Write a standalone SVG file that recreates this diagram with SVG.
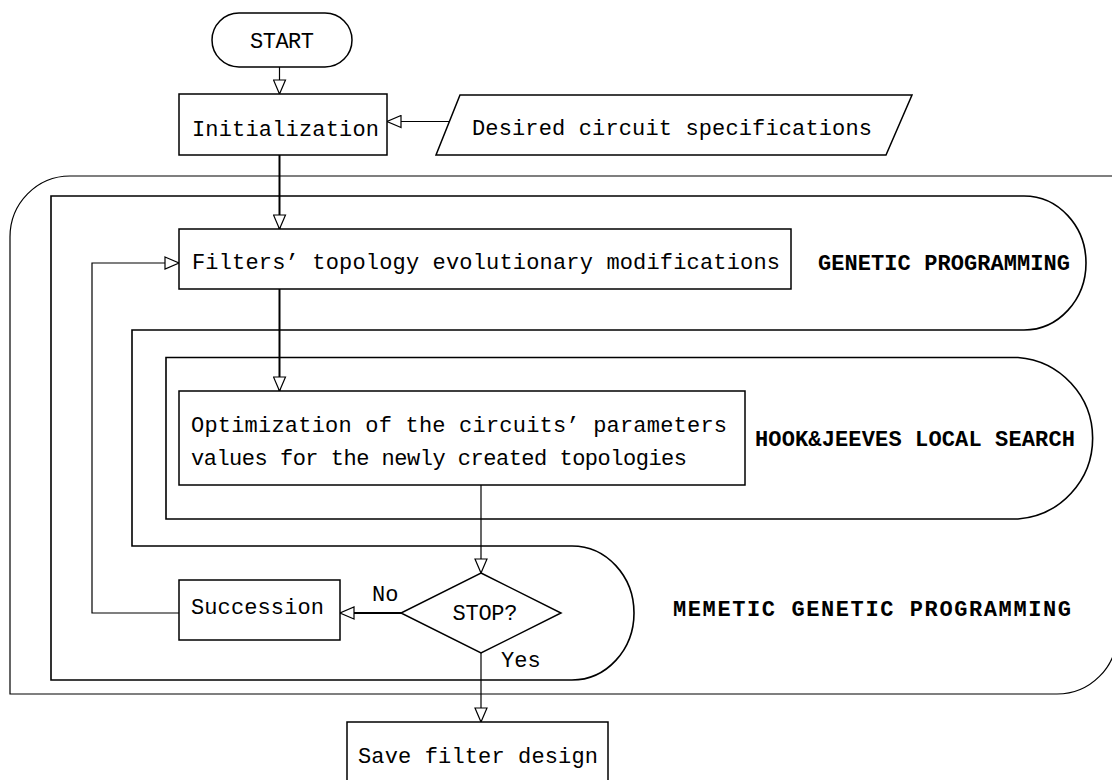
<svg xmlns="http://www.w3.org/2000/svg" width="1112" height="780" viewBox="0 0 1112 780">
  <defs>
    <marker id="arrow" viewBox="0 0 16 14" refX="15" refY="7" markerWidth="16" markerHeight="14" markerUnits="userSpaceOnUse" orient="auto">
      <path d="M1,1 L15,7 L1,13 Z" fill="#fff" stroke="#000" stroke-width="1.2"/>
    </marker>
    <style>
      .shape { fill: #fff; stroke: #000; stroke-width: 1.5; }
      .region { fill: none; stroke: #000; stroke-width: 1.6; }
      .outer { fill: none; stroke: #000; stroke-width: 1.2; }
      .line { fill: none; stroke: #000; stroke-width: 1.2; }
      .thick { stroke-width: 2; }
      text { font-family: "Liberation Mono", "DejaVu Sans Mono", monospace; font-size: 22px; fill: #000; }
      .label { font-weight: bold; }
    </style>
  </defs>
  <rect width="1112" height="780" fill="#fff"/>

  <!-- nested process regions -->
  <g id="regions">
    <path id="region-memetic" class="outer" d="M 1120 176 H 70 A 60 61 0 0 0 10 237 V 694 H 1057 A 60 60 0 0 0 1117 634"/>
    <path id="region-genetic" class="region" d="M 51 196 H 1024 A 62 67 0 0 1 1024 330 H 132 V 546 H 572 A 62 67 0 0 1 572 680 H 51 Z"/>
    <path id="region-hookjeeves" class="region" d="M 166 357.5 H 1018 A 81 81 0 0 1 1018 519 H 166 Z"/>
    <text class="label" x="818" y="270" textLength="252">GENETIC PROGRAMMING</text>
    <text class="label" x="755" y="446" textLength="320">HOOK&amp;JEEVES LOCAL SEARCH</text>
    <text class="label" x="673" y="616" textLength="398">MEMETIC GENETIC PROGRAMMING</text>
  </g>

  <!-- connectors -->
  <g id="connectors">
    <path class="line" d="M 279.5 67 V 94" marker-end="url(#arrow)"/>
    <path class="line" d="M 449 121.5 H 387" marker-end="url(#arrow)"/>
    <path class="line thick" d="M 279.5 155 V 229" marker-end="url(#arrow)"/>
    <path class="line thick" d="M 279.5 289 V 391" marker-end="url(#arrow)"/>
    <path class="line" d="M 481 485 V 573" marker-end="url(#arrow)"/>
    <path class="line thick" d="M 401 613 H 340" marker-end="url(#arrow)"/>
    <path class="line" d="M 481 653 V 722" marker-end="url(#arrow)"/>
    <path class="line" d="M 179 613 H 92 V 263 H 179" marker-end="url(#arrow)"/>
    <text x="372" y="601">No</text>
    <text x="501" y="667">Yes</text>
  </g>

  <!-- nodes -->
  <g id="start">
    <rect class="shape" x="212" y="13" width="140" height="54" rx="27" ry="27"/>
    <text x="282" y="48" text-anchor="middle" textLength="64">START</text>
  </g>
  <g id="initialization">
    <rect class="shape" x="179" y="94" width="208" height="61"/>
    <text x="192" y="136" textLength="187">Initialization</text>
  </g>
  <g id="specifications">
    <polygon class="shape" points="460,95 912,95 886,155 436,155"/>
    <text x="472" y="135" textLength="400">Desired circuit specifications</text>
  </g>
  <g id="topology">
    <rect class="shape" x="179" y="229" width="612" height="60"/>
    <text x="192" y="269" textLength="588">Filters’ topology evolutionary modifications</text>
  </g>
  <g id="optimization">
    <rect class="shape" x="179" y="391" width="566" height="94"/>
    <text x="191" y="432" textLength="536">Optimization of the circuits’ parameters</text>
    <text x="191" y="465" textLength="496">values for the newly created topologies</text>
  </g>
  <g id="succession">
    <rect class="shape" x="179" y="580" width="161" height="60"/>
    <text x="191" y="614" textLength="133">Succession</text>
  </g>
  <g id="stop">
    <polygon class="shape" points="481,573 561,613 481,653 401,613"/>
    <text x="485" y="620" text-anchor="middle" textLength="65">STOP?</text>
  </g>
  <g id="save">
    <rect class="shape" x="347" y="722" width="261" height="70"/>
    <text x="358" y="763" textLength="240">Save filter design</text>
  </g>
</svg>
